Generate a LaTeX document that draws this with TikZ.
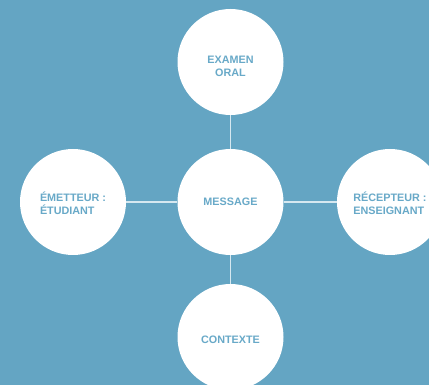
\documentclass[tikz,border=0pt]{standalone}
\usepackage{fontspec}
\setmainfont{Liberation Sans}
\definecolor{bg}{HTML}{64A5C3}
\definecolor{txt}{HTML}{68A9C8}
\definecolor{ln}{HTML}{D6E8F0}
\begin{document}
\begin{tikzpicture}[x=1pt,y=-1pt,
  bubble/.style={circle,fill=white,minimum size=106pt,inner sep=0pt},
  lbl/.style={font=\fontsize{10.8}{13}\selectfont\bfseries,text=txt,align=center,inner sep=0pt},
  sidelbl/.style={lbl,align=left},
  link/.style={draw=ln,line width=1.3pt}]
\useasboundingbox (0,0) rectangle (429,385);
\clip (0,0) rectangle (429,385);
\fill[bg] (0,0) rectangle (429,385);
\node[bubble] (top) at (230.5,62) {};
\node[bubble] (mid) at (230.5,202) {};
\node[bubble] (left) at (73,202) {};
\node[bubble] (right) at (390,202) {};
\node[bubble] (bot) at (230.5,337) {};
\node[lbl] (ttop) at ([yshift=-4pt]top.center) {EXAMEN\\ORAL};
\node[lbl] (tmid) at (mid.center) {MESSAGE};
\node[sidelbl] (tleft) at ([yshift=-1pt]left.center) {ÉMETTEUR :\\ÉTUDIANT};
\node[sidelbl] (tright) at ([yshift=-1pt]right.center) {RÉCEPTEUR :\\ENSEIGNANT};
\node[lbl] (tbot) at ([yshift=-2.5pt]bot.center) {CONTEXTE};
\draw[link] (mid) -- (top);
\draw[link] (mid) -- (bot);
\draw[link] (mid) -- (left);
\draw[link] (mid) -- (right);
\end{tikzpicture}
\end{document}
